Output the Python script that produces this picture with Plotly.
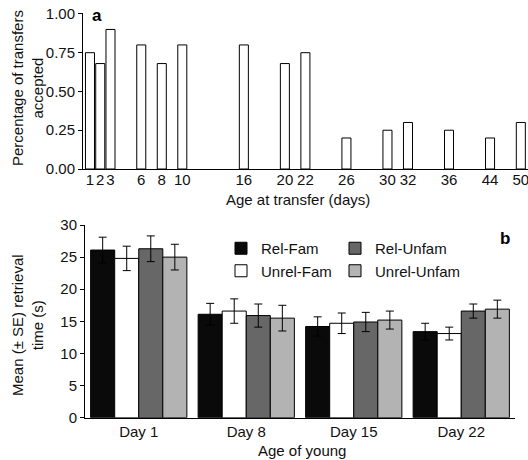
import plotly.graph_objects as go

# ---- Panel a data ----
transfer_days = [1, 2, 3, 6, 8, 10, 16, 20, 22, 26, 30, 32, 36, 44, 50]
accepted = [0.75, 0.68, 0.90, 0.80, 0.68, 0.80, 0.80, 0.68, 0.75, 0.20, 0.25, 0.30, 0.25, 0.20, 0.30]

# ---- Panel b data ----
age_groups = ["Day 1", "Day 8", "Day 15", "Day 22"]
rel_fam = [26.1, 16.1, 14.2, 13.4]
rel_fam_se = [2.0, 1.7, 1.5, 1.3]
unrel_fam = [24.8, 16.6, 14.7, 13.1]
unrel_fam_se = [1.9, 1.9, 1.6, 1.0]
rel_unfam = [26.3, 15.9, 14.9, 16.6]
rel_unfam_se = [2.0, 1.8, 1.5, 1.1]
unrel_unfam = [25.0, 15.5, 15.2, 16.9]
unrel_unfam_se = [2.0, 2.0, 1.4, 1.4]


def axis_pos(d):
    # the original x axis is compressed beyond day 36
    return d if d <= 36 else 36 + (d - 36) * 0.5


FONT = "Liberation Sans, Arial, sans-serif"
W, H = 528, 460

fig = go.Figure()

xpos = [axis_pos(d) for d in transfer_days]
fig.add_trace(go.Bar(
    x=xpos, y=accepted, width=0.88,
    marker=dict(color="white", line=dict(color="black", width=1)),
    showlegend=False, xaxis="x", yaxis="y",
))

series = [
    ("Rel-Fam", rel_fam, rel_fam_se, "#0a0a0a", "legend"),
    ("Unrel-Fam", unrel_fam, unrel_fam_se, "#ffffff", "legend"),
    ("Rel-Unfam", rel_unfam, rel_unfam_se, "#676767", "legend2"),
    ("Unrel-Unfam", unrel_unfam, unrel_unfam_se, "#b3b3b3", "legend2"),
]
for name, vals, se, col, leg in series:
    fig.add_trace(go.Bar(
        x=age_groups, y=vals, name=name, legend=leg,
        marker=dict(color=col, line=dict(color="black", width=1)),
        error_y=dict(type="data", array=se, visible=True, color="black",
                     thickness=1, width=4),
        xaxis="x2", yaxis="y2",
    ))

axis_common = dict(showline=True, linecolor="black", linewidth=1,
                   showgrid=False, zeroline=False, automargin=False,
                   tickangle=0, ticklabeloverflow="allow",
                   tickfont=dict(family=FONT, size=15, color="#111"))

leg_common = dict(orientation="v", yanchor="top", xanchor="left",
                  bgcolor="rgba(0,0,0,0)", tracegroupgap=0,
                  font=dict(family=FONT, size=15, color="#111"))

ann_common = dict(xref="paper", yref="paper", showarrow=False,
                  xanchor="center", yanchor="middle")

fig.update_layout(
    width=W, height=H,
    margin=dict(l=0, r=0, t=0, b=0),
    paper_bgcolor="white", plot_bgcolor="white",
    font=dict(family=FONT, size=15, color="#111"),
    barmode="group", bargap=0.105, bargroupgap=0,
    xaxis=dict(domain=[83 / W, 1.0], range=[0.32, 43.7],
               tickmode="array", tickvals=xpos,
               ticktext=[str(d) for d in transfer_days],
               ticks="", ticklabelstandoff=-3, anchor="y", **axis_common),
    yaxis=dict(domain=[1 - 169 / H, 1 - 13 / H], range=[0, 1.006],
               tickmode="array", tickvals=[0, 0.25, 0.5, 0.75, 1.0],
               ticktext=["0.00", "0.25", "0.50", "0.75", "1.00"],
               ticks="outside", ticklen=4, tickcolor="black",
               anchor="x", **axis_common),
    xaxis2=dict(domain=[85 / W, 515 / W], range=[-0.5, 3.5],
                ticks="", anchor="y2", **axis_common),
    yaxis2=dict(domain=[1 - 417.7 / H, 1 - 225 / H], range=[0, 30],
                tickvals=[0, 5, 10, 15, 20, 25, 30],
                ticks="outside", ticklen=4, tickcolor="black",
                anchor="x2", **axis_common),
    legend=dict(x=221 / W, y=1 - 232 / H, **leg_common),
    legend2=dict(x=335 / W, y=1 - 232 / H, **leg_common),
    annotations=[
        dict(text="Percentage of transfers<br>accepted", x=27 / W, y=1 - 88 / H,
             textangle=-90, font=dict(size=15), **ann_common),
        dict(text="Age at transfer (days)", x=298 / W, y=1 - 199 / H,
             font=dict(size=15), **ann_common),
        dict(text="Mean (± SE) retrieval<br>time (s)", x=27 / W, y=1 - 325 / H,
             textangle=-90, font=dict(size=15), **ann_common),
        dict(text="Age of young", x=302 / W, y=1 - 450 / H,
             font=dict(size=15), **ann_common),
        dict(text="<b>a</b>", x=97 / W, y=1 - 15 / H,
             font=dict(size=17, color="black"), **ann_common),
        dict(text="<b>b</b>", x=505 / W, y=1 - 238 / H,
             font=dict(size=17, color="black"), **ann_common),
    ],
)

fig.write_html(
    "out.html",
    config={"displayModeBar": False},
    post_script="document.body.style.margin='0';document.body.style.padding='0';",
)
